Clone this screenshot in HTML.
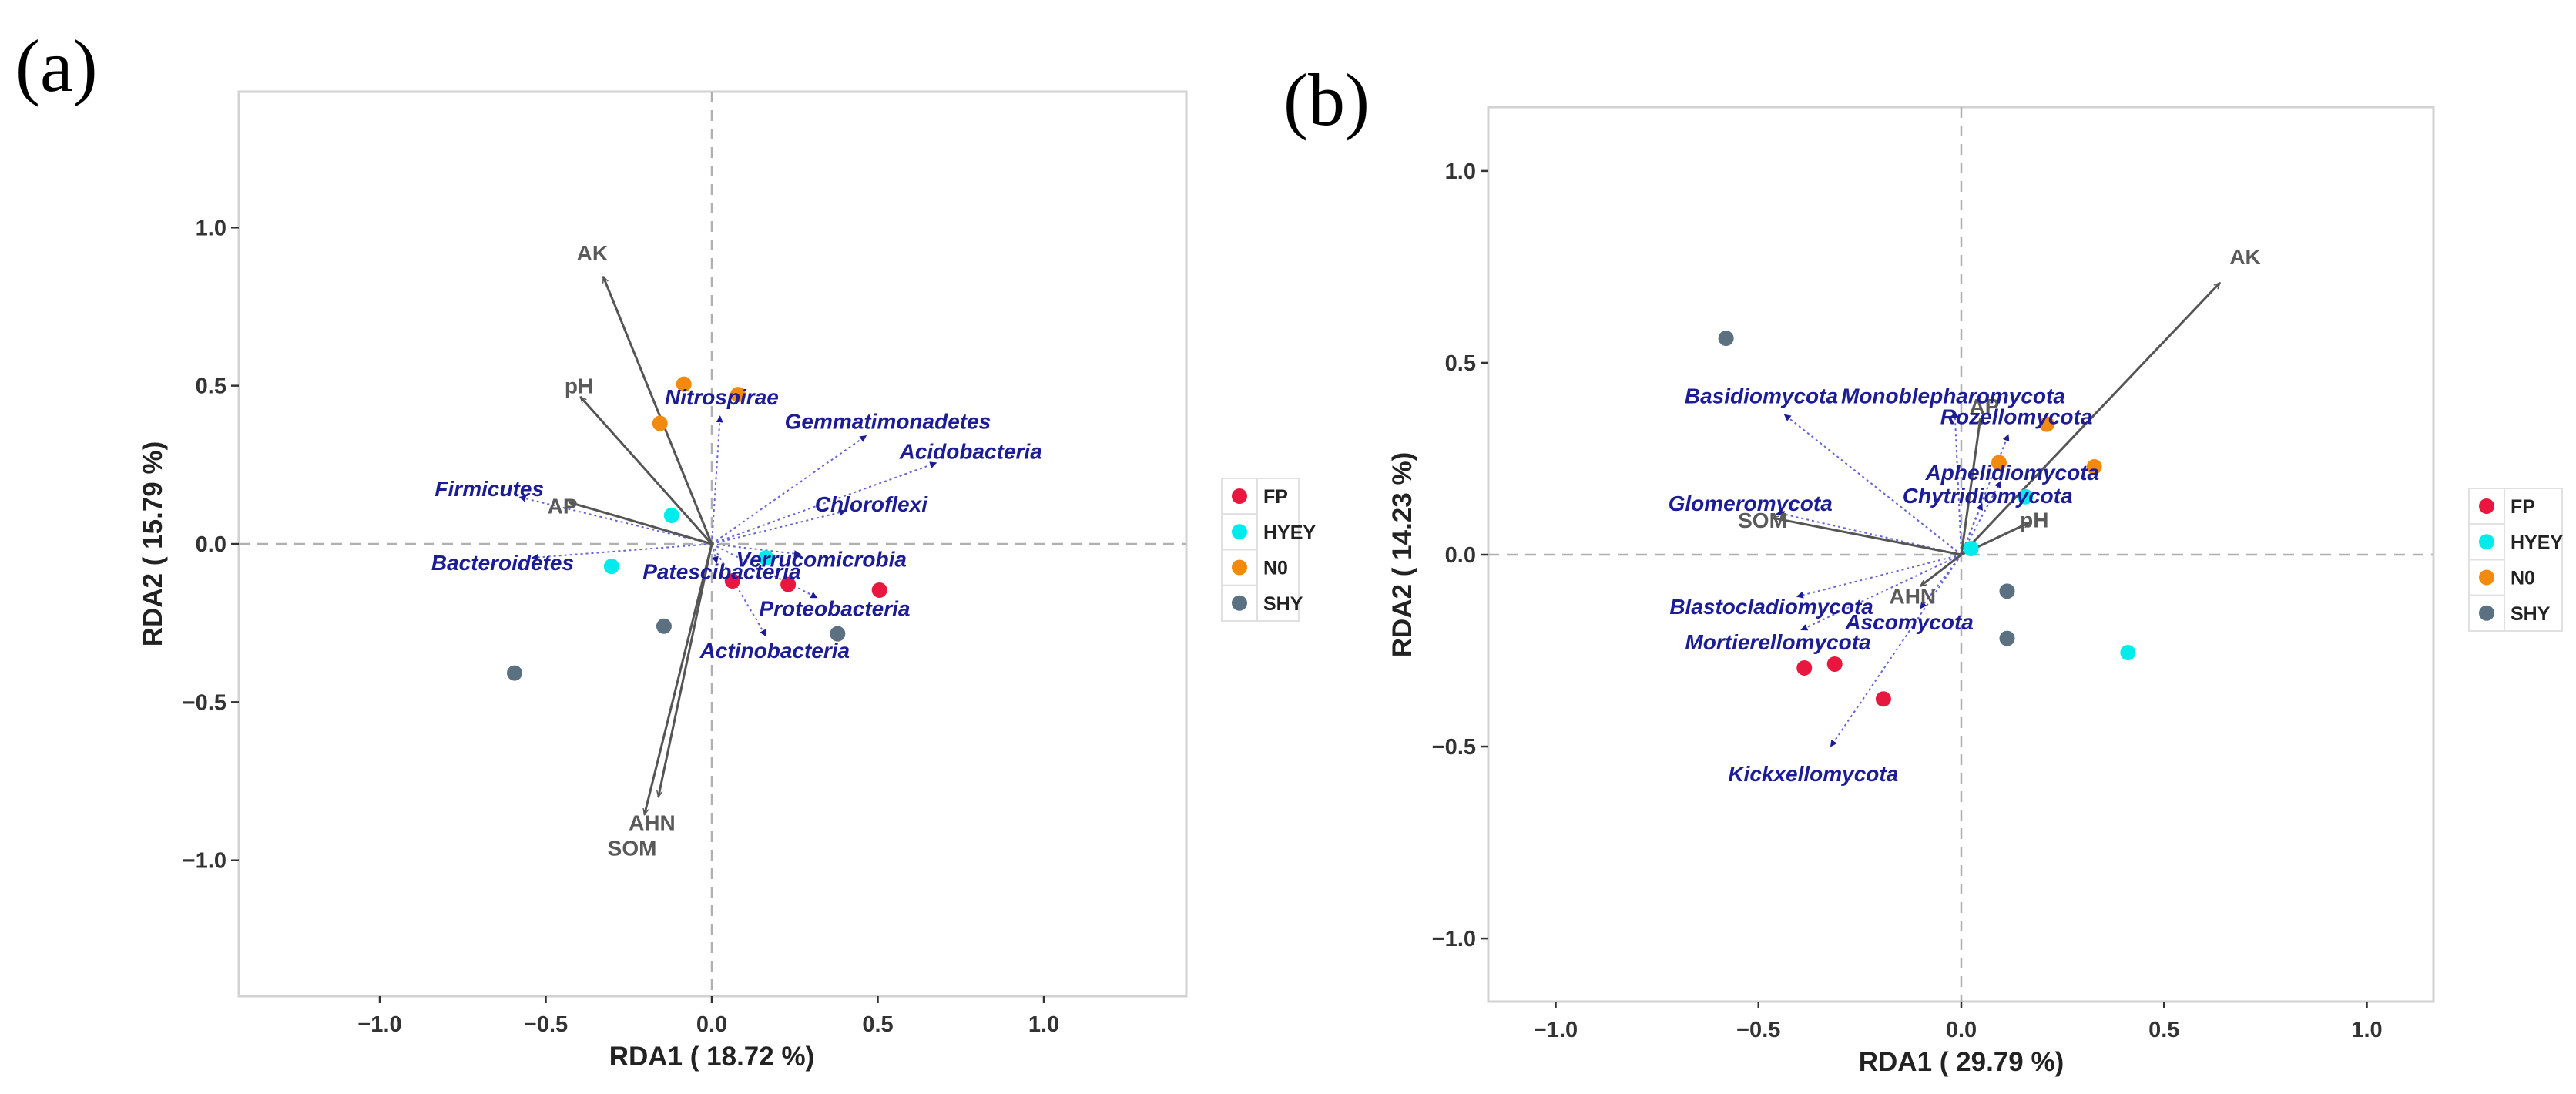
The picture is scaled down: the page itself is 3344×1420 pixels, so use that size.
<!DOCTYPE html>
<html><head><meta charset="utf-8"><style>
html,body{margin:0;padding:0;background:#fff;overflow:hidden}
svg{display:block}
text{font-family:"Liberation Sans",sans-serif}
</style></head><body>
<svg id="fig" width="3344" height="1420" viewBox="0 0 3344 1420" xmlns="http://www.w3.org/2000/svg">
<defs>
<marker id="ag" viewBox="0 0 10 10" refX="9" refY="5" markerWidth="9" markerHeight="9" orient="auto-start-reverse" markerUnits="userSpaceOnUse"><path d="M0,1 L9,5 L0,9" fill="none" stroke="#555" stroke-width="1.6"/></marker>
<marker id="ab" viewBox="0 0 10 10" refX="9" refY="5" markerWidth="9" markerHeight="9" orient="auto" markerUnits="userSpaceOnUse"><path d="M0,0 L10,5 L0,10 Z" fill="#1c1c96"/></marker>
</defs>
<text x="20" y="118" font-size="96" style="font-family:'Liberation Serif',serif" fill="#000">(a)</text>
<text x="1666" y="162" font-size="96" style="font-family:'Liberation Serif',serif" fill="#000">(b)</text>
<g id="pa"></g>
<g id="pb"></g>
</svg>
<script>
// ---- Panel A data ----
const aGroups = ["FP","HYEY","N0","SHY"];
const aPtX = [0.062,0.230,0.505, -0.121,-0.302,0.163, -0.084,0.079,-0.156, -0.144,0.379,-0.594];
const aPtY = [-0.117,-0.128,-0.146, 0.090,-0.071,-0.044, 0.505,0.472,0.381, -0.260,-0.284,-0.408];
const aPtG = [0,0,0, 1,1,1, 2,2,2, 3,3,3];
const aEnvNames = ["AK","pH","AP","AHN","SOM"];
const aEnvX = [-0.327,-0.396,-0.431,-0.203,-0.161];
const aEnvY = [0.845,0.465,0.132,-0.856,-0.800];
const aEnvLX = [-0.36,-0.40,-0.45,-0.18,-0.24];
const aEnvLY = [0.92,0.50,0.12,-0.88,-0.96];
const aSpNames = ["Nitrospirae","Gemmatimonadetes","Acidobacteria","Chloroflexi","Verrucomicrobia","Patescibacteria","Proteobacteria","Actinobacteria","Firmicutes","Bacteroidetes"];
const aSpX = [0.025,0.465,0.676,0.403,0.267,0.015,0.317,0.163,-0.579,-0.542];
const aSpY = [0.404,0.342,0.256,0.104,-0.033,-0.060,-0.170,-0.291,0.148,-0.044];
const aSpLX = [0.03,0.53,0.78,0.48,0.33,0.03,0.37,0.19,-0.67,-0.63];
const aSpLY = [0.465,0.388,0.293,0.127,-0.047,-0.087,-0.203,-0.336,0.175,-0.058];
const aTicks = [-1.0,-0.5,0.0,0.5,1.0];
// ---- Panel B data ----
const bPtX = [-0.387,-0.312,-0.192, 0.024,0.158,0.411, 0.093,0.211,0.328, -0.580,0.113,0.113];
const bPtY = [-0.295,-0.285,-0.376, 0.016,0.151,-0.255, 0.240,0.340,0.229, 0.564,-0.095,-0.218];
const bPtG = [0,0,0, 1,1,1, 2,2,2, 3,3,3];
const bEnvNames = ["AK","AP","pH","SOM","AHN"];
const bEnvX = [0.638,0.047,0.168,-0.466,-0.101];
const bEnvY = [0.709,0.355,0.084,0.096,-0.082];
const bEnvLX = [0.70,0.057,0.18,-0.49,-0.12];
const bEnvLY = [0.777,0.387,0.091,0.090,-0.107];
const bSpNames = ["Basidiomycota","Monoblepharomycota","Rozellomycota","Aphelidiomycota","Chytridiomycota","Glomeromycota","Blastocladiomycota","Ascomycota","Mortierellomycota","Kickxellomycota"];
const bSpX = [-0.436,-0.016,0.116,0.097,0.051,-0.452,-0.405,-0.101,-0.395,-0.322];
const bSpY = [0.365,0.373,0.313,0.191,0.133,0.109,-0.109,-0.140,-0.196,-0.500];
const bSpLX = [-0.493,-0.02,0.136,0.126,0.065,-0.520,-0.468,-0.128,-0.452,-0.365];
const bSpLY = [0.415,0.415,0.360,0.215,0.155,0.135,-0.135,-0.175,-0.227,-0.570];
const bTicks = [-1.0,-0.5,0.0,0.5,1.0];
const colors = ["#e8173f","#00ecec","#f28a0f","#5b7080"];
const NS="http://www.w3.org/2000/svg";
function mk(p,tag,at,txt){const e=document.createElementNS(NS,tag);for(const k in at)e.setAttribute(k,at[k]);if(txt!==undefined)e.textContent=txt;p.appendChild(e);return e;}
function panel(g,cfg){
  const sx=v=>cfg.x0+v*cfg.ux, sy=v=>cfg.y0-v*cfg.uy;
  const bg=mk(g,'rect',{x:cfg.L,y:cfg.T,width:cfg.R-cfg.L,height:cfg.B-cfg.T,fill:'#fff',stroke:'#d2d2d2','stroke-width':3});
  
  
  const hz=mk(g,'line',{x1:cfg.L,x2:cfg.R,y1:sy(0),y2:sy(0),stroke:'#b0b0b0','stroke-width':2.5,'stroke-dasharray':'14,10'});
  
  
  const vz=mk(g,'line',{y1:cfg.T,y2:cfg.B,x1:sx(0),x2:sx(0),stroke:'#b0b0b0','stroke-width':2.5,'stroke-dasharray':'14,10'});
  
  
  cfg.ticks.forEach(t=>{
    const lab=t.toFixed(1).replace('-','\u2212');
    mk(g,'line',{x1:sx(t),x2:sx(t),y1:cfg.B,y2:cfg.B+9,stroke:'#333','stroke-width':2.5});
    const tx=mk(g,'text',{x:sx(t),y:cfg.B+46,'text-anchor':'middle','font-size':29,'font-weight':'bold',fill:'#333'},lab);
    
    
    mk(g,'line',{x1:cfg.L-10,x2:cfg.L,y1:sy(t),y2:sy(t),stroke:'#333','stroke-width':2.5});
    const ty=mk(g,'text',{x:cfg.L-16,y:sy(t)+10,'text-anchor':'end','font-size':29,'font-weight':'bold',fill:'#333'},lab);
    
    
  });
  const xt=mk(g,'text',{x:sx(0),y:cfg.B+90,'text-anchor':'middle','font-size':35,'font-weight':'bold',fill:'#222'},cfg.xTitle);
  
  
  const yt=mk(g,'text',{x:0,y:0,'text-anchor':'middle','font-size':35,'font-weight':'bold',fill:'#222',transform:`translate(${cfg.L-100},${sy(0)}) rotate(-90)`},cfg.yTitle);
  
  
  cfg.spX.forEach((v,i)=>{
    const l=mk(g,'line',{x1:sx(0),y1:sy(0),x2:sx(v),y2:sy(cfg.spY[i]),stroke:'#6464d8','stroke-width':2,'stroke-dasharray':'3,4','marker-end':'url(#ab)'});
    
    
  });
  cfg.envX.forEach((v,i)=>{
    const l=mk(g,'line',{x1:sx(0),y1:sy(0),x2:sx(v),y2:sy(cfg.envY[i]),stroke:'#555','stroke-width':3,'marker-end':'url(#ag)'});
    
    
  });
  cfg.ptX.forEach((v,i)=>{
    const c=mk(g,'circle',{cx:sx(v),cy:sy(cfg.ptY[i]),r:10,fill:colors[cfg.ptG[i]]});
    
    
  });
  cfg.envNames.forEach((n,i)=>{
    const t=mk(g,'text',{x:sx(cfg.envLX[i]),y:sy(cfg.envLY[i])+10,'text-anchor':'middle','font-size':28,'font-weight':'bold',fill:'#5a5a5a'},n);
    
    
  });
  cfg.spNames.forEach((n,i)=>{
    const t=mk(g,'text',{x:sx(cfg.spLX[i]),y:sy(cfg.spLY[i])+10,'text-anchor':'middle','font-size':28,'font-weight':'bold','font-style':'italic',fill:'#1c1c96'},n);
    
    
  });
  const lg=mk(g,'g',{});
  
  
  mk(lg,'rect',{x:cfg.legX,y:cfg.legY,width:cfg.legW,height:185,fill:'#fff',stroke:'#e0e0e0','stroke-width':2});
  aGroups.forEach((n,i)=>{
    const y=cfg.legY+i*46.25;
    const e=mk(lg,'g',{});
    
    
    mk(e,'rect',{x:cfg.legX,y:y,width:46,height:46.25,fill:'#fff',stroke:'#e0e0e0','stroke-width':2});
    mk(e,'circle',{cx:cfg.legX+23,cy:y+23,r:10,fill:colors[i]});
    mk(e,'text',{x:cfg.legX+54,y:y+32,'font-size':25,'font-weight':'bold',fill:'#222'},n);
  });
}
panel(document.getElementById('pa'),{L:310,R:1540,T:119,B:1293,x0:924,ux:431,y0:706,uy:410.7,ticks:aTicks,
  xTitle:"RDA1 ( 18.72 %)",yTitle:"RDA2 ( 15.79 %)",ptX:aPtX,ptY:aPtY,ptG:aPtG,envNames:aEnvNames,envX:aEnvX,envY:aEnvY,envLX:aEnvLX,envLY:aEnvLY,
  spNames:aSpNames,spX:aSpX,spY:aSpY,spLX:aSpLX,spLY:aSpLY,legX:1586,legY:621,legW:100});
panel(document.getElementById('pb'),{L:1932,R:3159,T:139,B:1300,x0:2546,ux:526.5,y0:720,uy:498.1,ticks:bTicks,
  xTitle:"RDA1 ( 29.79 %)",yTitle:"RDA2 ( 14.23 %)",ptX:bPtX,ptY:bPtY,ptG:bPtG,envNames:bEnvNames,envX:bEnvX,envY:bEnvY,envLX:bEnvLX,envLY:bEnvLY,
  spNames:bSpNames,spX:bSpX,spY:bSpY,spLX:bSpLX,spLY:bSpLY,legX:3205,legY:634,legW:121});
</script>
</body></html>
